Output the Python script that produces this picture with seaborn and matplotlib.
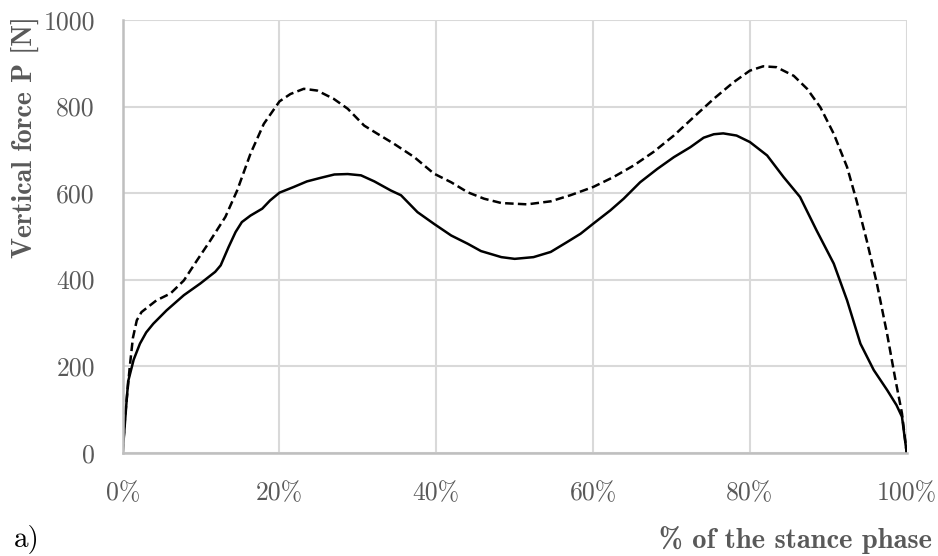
import numpy as np
import pandas as pd
import matplotlib
matplotlib.use("Agg")
import matplotlib.pyplot as plt
import seaborn as sns

# Stance-phase samples (% of stance) and vertical force P [N]
solid_pct = [0.0, 0.5, 0.7, 1.4, 2.2, 3.0, 3.9, 5.6, 7.8, 9.9, 11.8, 12.5, 13.5,
             14.4, 15.2, 16.3, 17.8, 18.8, 20.0, 21.8, 23.5, 25.2, 27.0, 28.7,
             30.4, 32.1, 34.2, 35.5, 37.6, 39.7, 41.9, 44.0, 45.7, 48.3, 50.0,
             52.4, 54.6, 56.7, 58.4, 60.0, 62.2, 63.9, 66.0, 68.2, 70.3, 72.4,
             74.1, 75.4, 76.6, 78.3, 80.0, 82.2, 84.3, 86.4, 88.5, 90.7, 92.4,
             94.1, 95.8, 97.5, 98.7, 99.4, 100.0]
solid_force = [0, 120, 165, 215, 252, 278, 298, 329, 364, 391, 418, 433, 475,
               510, 533, 548, 564, 583, 601, 614, 627, 635, 643, 644,
               641, 627, 606, 595, 556, 529, 502, 483, 466, 452, 448,
               452, 464, 487, 506, 529, 560, 587, 625, 656, 683, 706,
               728, 736, 738, 733, 718, 687, 637, 591, 514, 437, 352,
               252, 191, 145, 110, 83, 0]

dashed_pct = [0.0, 0.3, 0.9, 1.3, 1.8, 2.4, 4.3, 6.1, 7.8, 9.5, 11.2, 13.1, 14.6,
              16.3, 18.0, 20.0, 21.4, 23.1, 24.8, 26.9, 28.7, 30.8, 32.5, 34.6,
              37.2, 39.7, 41.9, 44.0, 46.1, 48.3, 51.6, 54.6, 57.1, 60.0, 62.6,
              65.2, 67.7, 70.3, 72.8, 75.4, 77.9, 80.0, 81.7, 83.4, 85.6, 87.3,
              89.0, 90.7, 92.4, 93.6, 94.9, 96.2, 97.5, 98.5, 99.4, 100.0]
dashed_force = [0, 83, 198, 265, 306, 325, 352, 368, 398, 445, 491, 545, 606,
                691, 760, 812, 829, 841, 837, 818, 795, 756, 737, 714,
                683, 645, 625, 602, 587, 577, 574, 581, 595, 614, 637,
                664, 695, 733, 775, 818, 856, 883, 893, 891, 871, 841,
                798, 737, 660, 583, 491, 391, 275, 175, 91, 0]

x_ticks = [0, 20, 40, 60, 80, 100]
x_tick_labels = ["0%", "20%", "40%", "60%", "80%", "100%"]
y_ticks = [0, 200, 400, 600, 800, 1000]

df = pd.concat([
    pd.DataFrame({"pct": solid_pct, "force": solid_force, "curve": "solid"}),
    pd.DataFrame({"pct": dashed_pct, "force": dashed_force, "curve": "dashed"}),
], ignore_index=True)

sns.set_theme(style="whitegrid")
plt.rcParams["font.family"] = ["cmr10", "DejaVu Serif"]
plt.rcParams["axes.formatter.use_mathtext"] = True

label_grey = "#595959"

fig = plt.figure(figsize=(9.38, 5.56), dpi=100)
ax = fig.add_axes([0.1308, 0.1858, 0.8358, 0.7782])

sns.lineplot(data=df, x="pct", y="force", style="curve",
             dashes={"solid": "", "dashed": (3.4, 1.7)},
             color="black", linewidth=1.8, estimator=None, sort=False,
             legend=False, ax=ax)
for ln in ax.get_lines():
    ln.set_solid_joinstyle("round")
    ln.set_dash_joinstyle("round")

ax.set_xlim(0, 100)
ax.set_ylim(0, 1000)
ax.set_xticks(x_ticks)
ax.set_xticklabels(x_tick_labels)
ax.set_yticks(y_ticks)
ax.set_yticklabels([str(v) for v in y_ticks])
ax.tick_params(axis="both", labelsize=18.5, labelcolor=label_grey, length=0)
ax.tick_params(axis="x", pad=21)
ax.tick_params(axis="y", pad=20)
ax.grid(True, color="#d9d9d9", linewidth=1.5)
ax.set_axisbelow(True)
ax.set_xlabel("")
ax.set_ylabel("")
for side in ("top", "right"):
    ax.spines[side].set_visible(False)
for side in ("left", "bottom"):
    ax.spines[side].set_color("#bfbfbf")
    ax.spines[side].set_linewidth(1.8)

fig.text(25 / 938, 1 - 137 / 556, "Vertical force P [N]", rotation=90,
         ha="center", va="center", fontsize=20, color=label_grey,
         family=["cmb10", "DejaVu Serif"])
fig.text(932 / 938, 1 - 540 / 556, "% of the stance phase",
         ha="right", va="center", fontsize=20.5, color=label_grey,
         family=["cmb10", "DejaVu Serif"])
fig.text(14 / 938, 1 - 540 / 556, "a)", ha="left", va="center",
         fontsize=21, color="black")

fig.savefig("out.png", dpi=100)
